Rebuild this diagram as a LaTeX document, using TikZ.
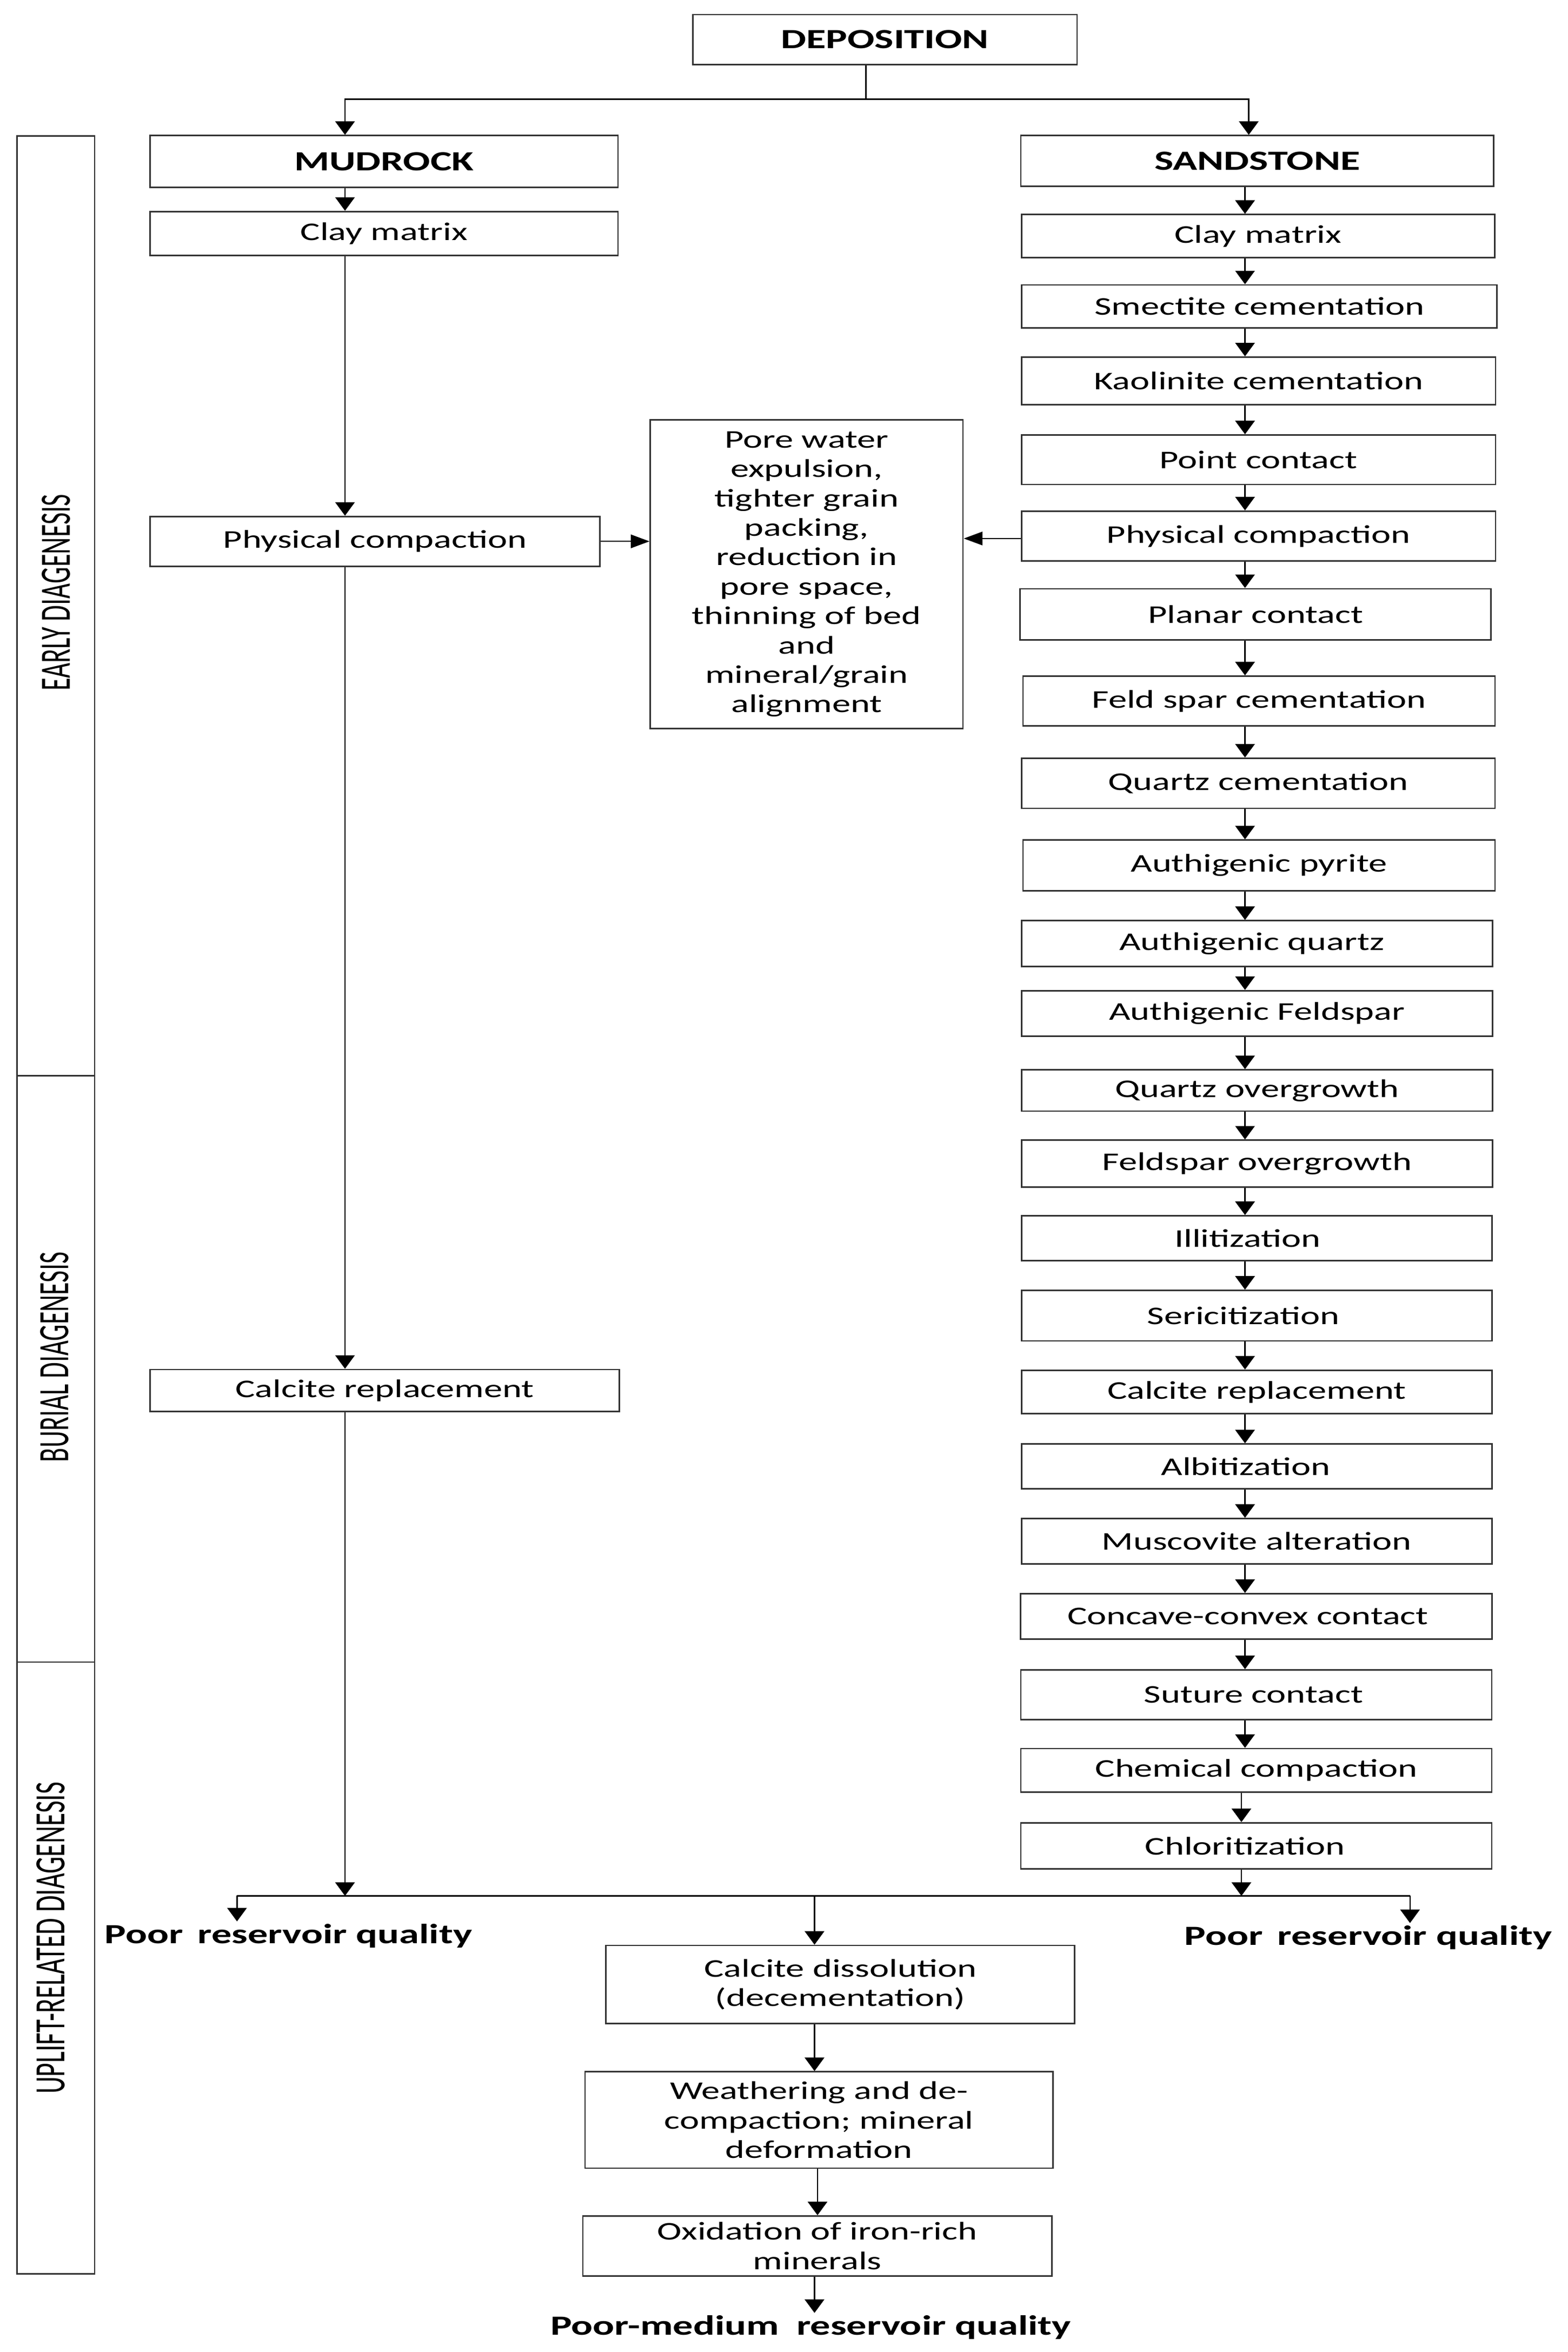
\documentclass[tikz,border=0pt]{standalone}
\usepackage{fontspec}
\setmainfont{Carlito}[FakeStretch=1.45]
\newfontfamily\barfont{Carlito}
\usetikzlibrary{arrows.meta}
\newcommand\regf{\fontsize{17}{19.6}\selectfont}
\newcommand\bldf{\fontsize{18.5}{21}\selectfont\bfseries}
\newcommand\shl[2]{\hspace*{#1}#2}
\begin{document}
\begin{tikzpicture}[x=1pt,y=-1pt,
  box/.style={draw=black!80, line width=1pt, rectangle, inner sep=0pt, align=center, font=\regf},
  boldbox/.style={box, font=\bldf},
  cell/.style={draw=black!80, line width=1pt, rectangle, inner sep=0pt},
  barlabel/.style={rotate=90, inner sep=0pt, font=\barfont},
  ln/.style={line width=0.9pt, draw=black},
  varr/.style={ln, -{Triangle[length=9pt,width=13pt]}},
  harr/.style={ln, -{Triangle[length=12.5pt,width=9pt]}},
  lbl/.style={font=\bldf, inner sep=1.5pt, anchor=base}]
\useasboundingbox (0,0) rectangle (1045,1568);

% left stage bar
\node[cell, minimum width=51.7pt, minimum height=626.4pt] (early) at (37.25,403.8) {};
\node[cell, minimum width=51.7pt, minimum height=391pt] (burial) at (37.25,912.5) {};
\node[cell, minimum width=51.7pt, minimum height=408pt] (uplift) at (37.25,1312) {};
\node[barlabel] (earlyL) at (37.5,395) {\resizebox{131pt}{18.7pt}{EARLY DIAGENESIS}};
\node[barlabel] (burialL) at (36.4,904.7) {\resizebox{140pt}{18.7pt}{BURIAL DIAGENESIS}};
\node[barlabel] (upliftL) at (34,1292) {\resizebox{208pt}{18.7pt}{UPLIFT-RELATED DIAGENESIS}};

% top
\node[boldbox, minimum width=256pt, minimum height=33.3pt] (dep) at (590,26.35) {DEPOSITION};

% mudrock column
\node[boldbox, minimum width=312pt, minimum height=34.5pt] (mud) at (256,107.65) {MUDROCK};
\node[box, minimum width=312pt, minimum height=29.4pt] (lclay) at (256,155.7) {Clay matrix};
\node[box, minimum width=300pt, minimum height=33.2pt] (lphys) at (250,360.9) {Physical compaction};
\node[box, minimum width=313pt, minimum height=28pt] (lcal) at (256.5,927) {Calcite replacement};

% middle box
\node[box, minimum width=208.5pt, minimum height=205.6pt] (mid) at (537.75,382.8)
 {Pore water\\expulsion,\\tighter grain\\packing,\\reduction in\\pore space,\\thinning of bed\\and\\mineral/grain\\alignment};

% sandstone column
\node[boldbox, minimum width=315.3pt, minimum height=33.8pt] (sand) at (838.2,107.3) {SANDSTONE};
\node[box, minimum width=315.5pt, minimum height=28.7pt] (rclay) at (838.7,157.4) {Clay matrix};
\node[box, minimum width=317pt, minimum height=28.6pt] (smec) at (839.5,204.3) {Smectite cementation};
\node[box, minimum width=316pt, minimum height=31.7pt] (kaol) at (839,253.9) {Kaolinite cementation};
\node[box, minimum width=316pt, minimum height=33pt] (point) at (839,306.5) {Point contact};
\node[box, minimum width=316pt, minimum height=33.3pt] (rphys) at (839,357.4) {Physical compaction};
\node[box, minimum width=314pt, minimum height=34pt] (planar) at (837,409.5) {Planar contact};
\node[box, minimum width=314.7pt, minimum height=33.3pt] (feld) at (839.3,467.4) {Feld spar cementation};
\node[box, minimum width=315.7pt, minimum height=33.4pt] (qcem) at (838.8,522.2) {Quartz cementation};
\node[box, minimum width=314.7pt, minimum height=33.7pt] (pyr) at (839.3,576.9) {Authigenic pyrite};
\node[box, minimum width=314pt, minimum height=30.4pt] (aq) at (838,629) {\shl{-6.8pt}{Authigenic quartz}};
\node[box, minimum width=314pt, minimum height=30.5pt] (af) at (838,675.7) {Authigenic Feldspar};
\node[box, minimum width=314pt, minimum height=27.5pt] (qo) at (838,727) {Quartz overgrowth};
\node[box, minimum width=314pt, minimum height=31.1pt] (fo) at (838,775.7) {Feldspar overgrowth};
\node[box, minimum width=313.6pt, minimum height=29.8pt] (ill) at (837.8,825.4) {\shl{-12pt}{Illitization}};
\node[box, minimum width=313.6pt, minimum height=33.7pt] (ser) at (837.8,877.1) {\shl{-17.6pt}{Sericitization}};
\node[box, minimum width=313.6pt, minimum height=29pt] (rcal) at (837.8,928) {Calcite replacement};
\node[box, minimum width=313.6pt, minimum height=29.8pt] (alb) at (837.8,977.6) {\shl{-14.6pt}{Albitization}};
\node[box, minimum width=313.6pt, minimum height=30.3pt] (musc) at (837.8,1027.5) {Muscovite alteration};
\node[box, minimum width=314.5pt, minimum height=30.3pt] (conc) at (837.5,1077.6) {\shl{-11.2pt}{Concave-convex contact}};
\node[box, minimum width=314pt, minimum height=33.1pt] (sut) at (837.5,1129.8) {\shl{-3.6pt}{Suture contact}};
\node[box, minimum width=314pt, minimum height=28.9pt] (chem) at (837.5,1180.2) {Chemical compaction};
\node[box, minimum width=314pt, minimum height=30.8pt] (chl) at (837.5,1230.6) {\shl{-15pt}{Chloritization}};

% uplift boxes
\node[box, minimum width=312.5pt, minimum height=52.1pt] (cdis) at (560.25,1323) {Calcite dissolution\\(decementation)};
\node[box, minimum width=312pt, minimum height=64.2pt] (weat) at (546,1413.3) {Weathering and de-\\compaction; mineral\\deformation};
\node[box, minimum width=312.6pt, minimum height=40pt] (oxi) at (544.9,1497.3) {Oxidation of iron-rich\\minerals};

% outcome labels
\node[lbl] (poorL) at (192.3,1295.6) {Poor\hspace{0.2em} reservoir quality};
\node[lbl] (poorR) at (912.2,1296.7) {Poor\hspace{0.2em} reservoir quality};
\node[lbl] (poorM) at (540.5,1556.6) {Poor-medium\hspace{0.3em} reservoir quality};

% coordinates of connector columns
\coordinate (mx) at (230,0);
\coordinate (sx) at (832.5,0);
\coordinate (rx) at (830,0);
\coordinate (rx2) at (827.6,0);
\coordinate (bx) at (543,0);
\coordinate (bx2) at (545,0);
\coordinate (jtop) at (577.2,66.2);
\coordinate (ay) at (0,359);
\coordinate (jl) at (158,1263.9);
\coordinate (jr) at (940,1263.9);
\coordinate (jb) at (543,1263.9);

% top connectors
\draw[ln] (dep.south -| jtop) -- (jtop);
\draw[varr] (jtop) -| (mud.north -| mx);
\draw[varr] (jtop) -| (sand.north -| sx);

% mudrock chain
\draw[varr] (mud.south -| mx) -- (lclay.north -| mx);
\draw[varr] (lclay.south -| mx) -- (lphys.north -| mx);
\draw[varr] (lphys.south -| mx) -- (lcal.north -| mx);

% to middle box
\draw[harr] (lphys.east) -- (mid.west |- lphys.east);
\draw[harr] (rphys.west |- ay) -- (mid.east |- ay);

% sandstone chain
\foreach \a/\b in {sand/rclay, rclay/smec, smec/kaol, kaol/point, point/rphys, rphys/planar,
  planar/feld, feld/qcem, qcem/pyr, pyr/aq, aq/af, af/qo, qo/fo, fo/ill, ill/ser, ser/rcal,
  rcal/alb, alb/musc, musc/conc, conc/sut, sut/chem}
  \draw[varr] (\a.south -| rx) -- (\b.north -| rx);
\draw[varr] (chem.south -| rx2) -- (chl.north -| rx2);

% bottom distribution
\draw[ln] (jl) -- (jr);
\draw[varr] (lcal.south -| mx) -- (jl -| mx);
\draw[varr] (chl.south -| rx2) -- (jl -| rx2);
\draw[varr] (jl) -- (poorL.north -| jl);
\draw[varr] (jr) -- (poorR.north -| jr);
\draw[varr] (jb) -- (cdis.north -| jb);
\draw[varr] (cdis.south -| bx) -- (weat.north -| bx);
\draw[varr] (weat.south -| bx2) -- (oxi.north -| bx2);
\draw[varr] (oxi.south -| bx) -- (poorM.north -| bx);
\end{tikzpicture}
\end{document}
